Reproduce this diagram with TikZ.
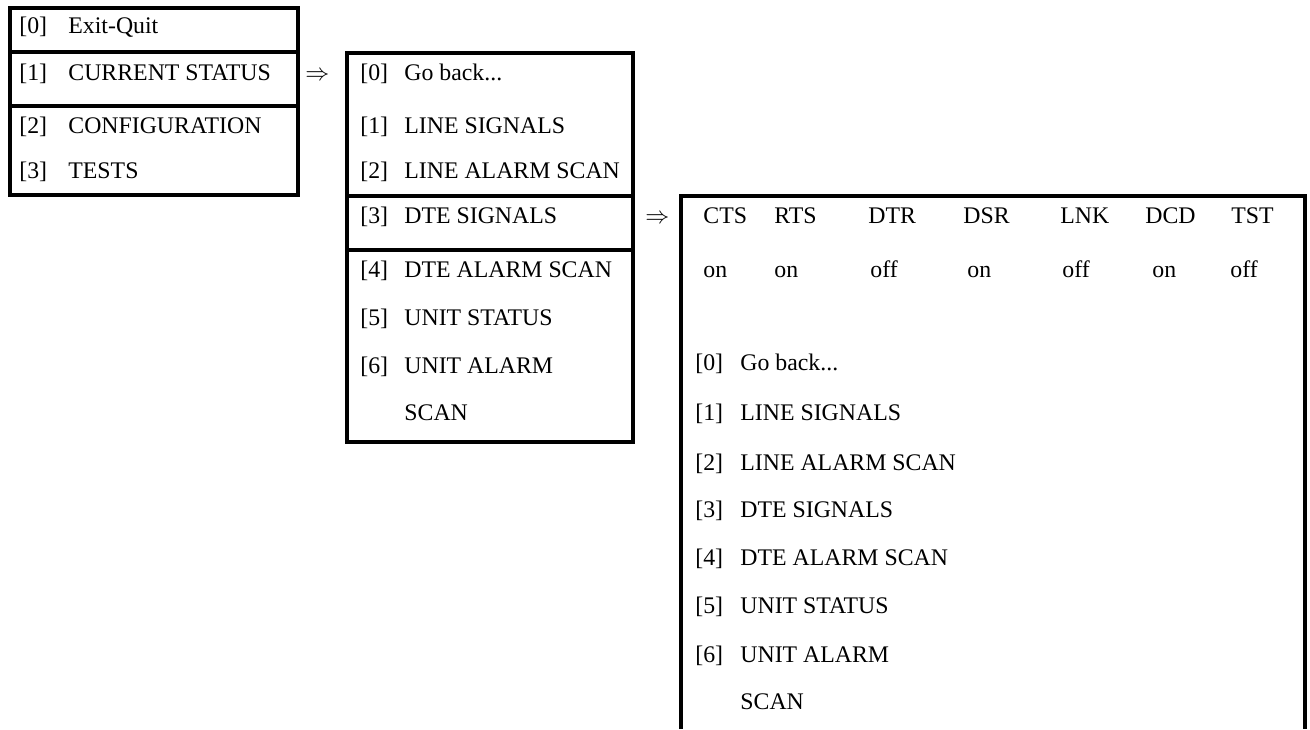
\documentclass[tikz,border=0pt]{standalone}
\usepackage{fontspec}
\setmainfont{Liberation Serif}
\usetikzlibrary{positioning}
\newcommand{\gobacktxt}{Go back...}

\begin{document}
\begin{tikzpicture}[x=0.5pt, y=-0.5pt,
  menu/.style={anchor=base west, inner sep=0pt, font=\fontsize{11.9}{14}\selectfont},
  frame/.style={line width=1.6pt}]
\useasboundingbox (0,0) rectangle (1310,729);
% main menu
\draw[frame] (10,8) rectangle (298,195);
\draw[frame] (10,52) -- (298,52) (10,106) -- (298,106);
\foreach \k/\y/\txt in {0/33/Exit-Quit, 1/80/CURRENT STATUS, 2/133/CONFIGURATION, 3/178/TESTS} {
  \node[menu] (mainkey\k) at (19,\y) {[\k]};
  \node[menu] (main\k) at (68,\y) {\txt};
}
\node[menu] (goA) at (305,80) {$\Rightarrow$};
% current status menu
\draw[frame] (347,53) rectangle (633,442);
\draw[frame] (347,196) -- (633,196) (347,250) -- (633,250);
\foreach \k/\y/\txt in {0/80/\gobacktxt, 1/133/LINE SIGNALS, 2/178/LINE ALARM SCAN, 3/223/DTE SIGNALS,
    4/277/DTE ALARM SCAN, 5/325/UNIT STATUS, 6/373/UNIT ALARM} {
  \node[menu] (statkey\k) at (360,\y) {[\k]};
  \node[menu] (stat\k) at (404,\y) {\txt};
}
\node[menu] (stat6b) at (404,420) {SCAN};
\node[menu] (goB) at (645,223) {$\Rightarrow$};
% dte signals screen (runs off the page)
\draw[frame] (681,729) -- (681,196) -- (1305,196) -- (1305,729);
\foreach \s/\x/\v/\vx in {CTS/703/on/703, RTS/774/on/774, DTR/868/off/870, DSR/963/on/967,
    LNK/1060/off/1062, DCD/1145/on/1152, TST/1231/off/1230} {
  \node[menu] (sig\s) at (\x,223) {\s};
  \node[menu] (val\s) at (\vx,277) {\v};
}
\foreach \k/\y/\txt in {0/370/\gobacktxt, 1/420/LINE SIGNALS, 2/470/LINE ALARM SCAN, 3/517/DTE SIGNALS,
    4/565/DTE ALARM SCAN, 5/613/UNIT STATUS, 6/662/UNIT ALARM} {
  \node[menu] (dtekey\k) at (695,\y) {[\k]};
  \node[menu] (dte\k) at (740,\y) {\txt};
}
\node[menu] (dte6b) at (740,709) {SCAN};
\end{tikzpicture}
\end{document}
